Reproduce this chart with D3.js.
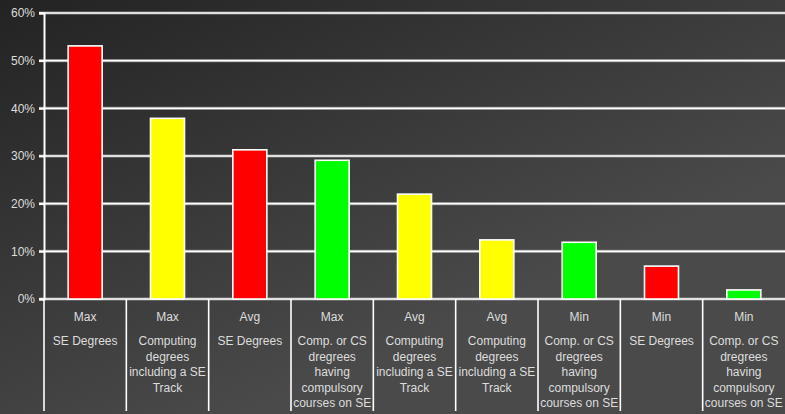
<!DOCTYPE html>
<html>
<head>
<meta charset="utf-8">
<script src="https://cdn.jsdelivr.net/npm/d3@7"></script>
<style>
  html, body { margin: 0; padding: 0; background: #3a3a3a; }
  svg { display: block; }
  text { font-family: "Liberation Sans", Arial, sans-serif; }
</style>
</head>
<body>
<svg id="chart" width="785" height="414"></svg>
<script>
// Share of degree programmes, by statistic and programme type
const statLabels = ["Max", "Max", "Avg", "Max", "Avg", "Avg", "Min", "Min", "Min"];
const programmeLines = [
  ["SE Degrees"],
  ["Computing", "degrees", "including a SE", "Track"],
  ["SE Degrees"],
  ["Comp. or CS", "dregrees", "having", "compulsory", "courses on SE"],
  ["Computing", "degrees", "including a SE", "Track"],
  ["Computing", "degrees", "including a SE", "Track"],
  ["Comp. or CS", "dregrees", "having", "compulsory", "courses on SE"],
  ["SE Degrees"],
  ["Comp. or CS", "dregrees", "having", "compulsory", "courses on SE"]
];
const values = [53.1, 37.9, 31.3, 29.1, 22.0, 12.4, 11.9, 6.9, 1.9];
const barColors = ["#ff0000", "#ffff00", "#ff0000", "#00ff00", "#ffff00", "#ffff00", "#00ff00", "#ff0000", "#00ff00"];
const yTicks = [0, 10, 20, 30, 40, 50, 60];

const W = 785, H = 414;
const margin = { left: 44, right: 0, top: 13, bottom: 115 };
const svg = d3.select("#chart");

// Background: dark diagonal gradient
const defs = svg.append("defs");
const grad = defs.append("linearGradient")
  .attr("id", "bg").attr("x1", "0").attr("y1", "0").attr("x2", "0.62").attr("y2", "0.75");
grad.append("stop").attr("offset", "0").attr("stop-color", "#232323");
grad.append("stop").attr("offset", "1").attr("stop-color", "#4a4a4a");
svg.append("rect").attr("width", W).attr("height", H).attr("fill", "url(#bg)");

const idx = d3.range(values.length);
const x = d3.scaleBand().domain(idx).range([margin.left, W - margin.right]).padding(0);
const y = d3.scaleLinear().domain([0, 60]).range([299, margin.top]);

// Horizontal gridlines (white with a soft grey halo)
const grid = svg.append("g");
grid.selectAll("line.halo").data(yTicks).join("line")
  .attr("x1", margin.left - 5).attr("x2", W)
  .attr("y1", d => y(d)).attr("y2", d => y(d))
  .attr("stroke", "#bbbbbb").attr("stroke-width", 3).attr("opacity", 0.6);
grid.selectAll("line.main").data(yTicks).join("line")
  .attr("x1", margin.left - 5).attr("x2", W)
  .attr("y1", d => y(d)).attr("y2", d => y(d))
  .attr("stroke", "#ffffff").attr("stroke-width", 1.6);

// Y axis
const yAxis = d3.axisLeft(y).tickValues(yTicks).tickFormat(d => d + "%").tickSize(5).tickPadding(4);
const ya = svg.append("g").attr("transform", `translate(${margin.left},0)`).call(yAxis);
ya.select(".domain").attr("stroke", "#ffffff").attr("stroke-width", 2);
ya.selectAll(".tick line").attr("stroke", "#ffffff").attr("stroke-width", 1.6);
ya.selectAll(".tick text")
  .attr("fill", "#dddddd").attr("font-size", 12)
  .attr("font-family", "'Liberation Sans', Arial, sans-serif");

// Bars
const barW = 34;
svg.append("g").selectAll("rect").data(idx).join("rect")
  .attr("x", i => x(i) + x.bandwidth() / 2 - barW / 2)
  .attr("width", barW)
  .attr("y", i => y(values[i]))
  .attr("height", i => y(0) - y(values[i]))
  .attr("fill", i => barColors[i])
  .attr("stroke", "#ffffff").attr("stroke-width", 1.6);

// Category separators below the baseline
const seps = idx.map(i => x(i)).concat([]);
svg.append("g").selectAll("line").data(seps).join("line")
  .attr("x1", d => d).attr("x2", d => d)
  .attr("y1", y(0)).attr("y2", 411)
  .attr("stroke", "#ffffff").attr("stroke-width", 1.6);

// Category labels
const labels = svg.append("g").selectAll("g").data(idx).join("g")
  .attr("transform", i => `translate(${x(i) + x.bandwidth() / 2},0)`);
labels.append("text")
  .attr("y", 321).attr("text-anchor", "middle")
  .attr("fill", "#dddddd").attr("font-size", 12)
  .text(i => statLabels[i]);
labels.each(function(i) {
  d3.select(this).selectAll("text.desc").data(programmeLines[i]).join("text")
    .attr("class", "desc")
    .attr("y", (d, k) => 345 + k * 15.5)
    .attr("text-anchor", "middle")
    .attr("fill", "#dddddd").attr("font-size", 12)
    .text(d => d);
});
</script>
</body>
</html>
